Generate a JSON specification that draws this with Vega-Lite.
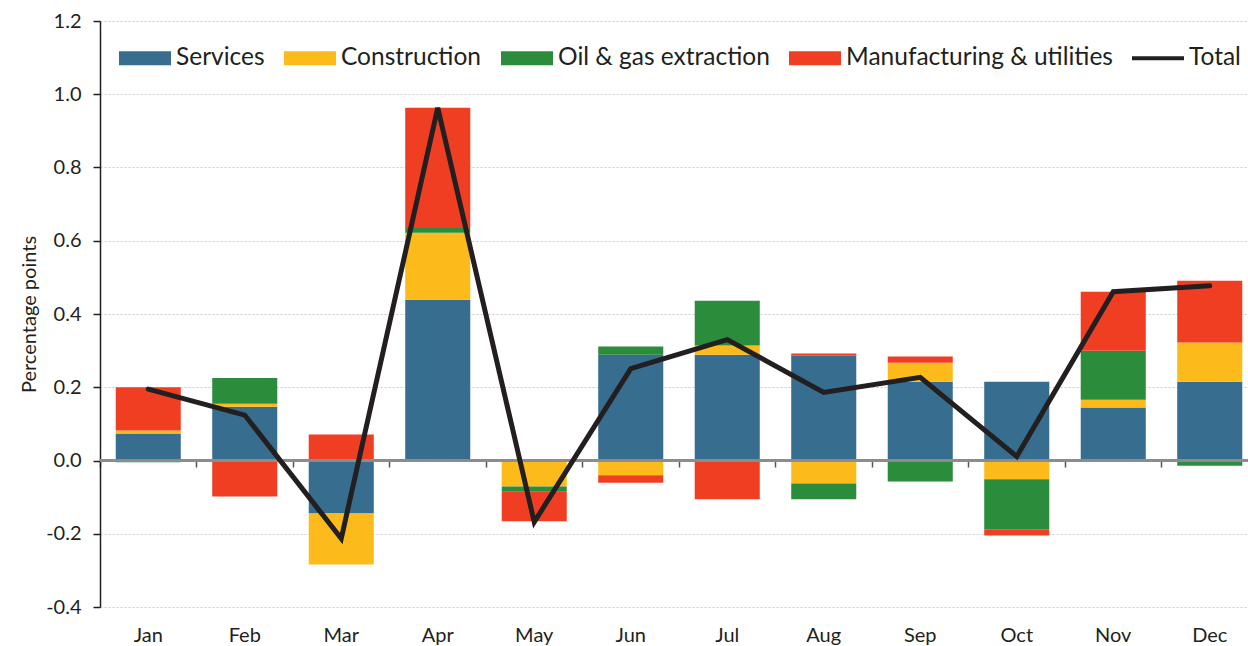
{
  "$schema": "https://vega.github.io/schema/vega-lite/v6.json",
  "width": 1148,
  "height": 586,
  "autosize": {"type": "none"},
  "padding": {"left": 100, "top": 21, "right": 0, "bottom": 39},
  "config": {"font": "Lato", "view": {"stroke": null}},
  "data": {
    "values": [
      {"month": "Jan", "sector": "Services", "value": 0.074},
      {"month": "Jan", "sector": "Construction", "value": 0.008},
      {"month": "Jan", "sector": "Oil & gas extraction", "value": -0.005},
      {"month": "Jan", "sector": "Manufacturing & utilities", "value": 0.118},
      {"month": "Jan", "sector": "Total", "value": 0.195},
      {"month": "Feb", "sector": "Services", "value": 0.147},
      {"month": "Feb", "sector": "Construction", "value": 0.008},
      {"month": "Feb", "sector": "Oil & gas extraction", "value": 0.07},
      {"month": "Feb", "sector": "Manufacturing & utilities", "value": -0.098},
      {"month": "Feb", "sector": "Total", "value": 0.124},
      {"month": "Mar", "sector": "Services", "value": -0.145},
      {"month": "Mar", "sector": "Construction", "value": -0.139},
      {"month": "Mar", "sector": "Oil & gas extraction", "value": 0.003},
      {"month": "Mar", "sector": "Manufacturing & utilities", "value": 0.068},
      {"month": "Mar", "sector": "Total", "value": -0.213},
      {"month": "Apr", "sector": "Services", "value": 0.439},
      {"month": "Apr", "sector": "Construction", "value": 0.183},
      {"month": "Apr", "sector": "Oil & gas extraction", "value": 0.013},
      {"month": "Apr", "sector": "Manufacturing & utilities", "value": 0.328},
      {"month": "Apr", "sector": "Total", "value": 0.963},
      {"month": "May", "sector": "Services", "value": 0.0},
      {"month": "May", "sector": "Construction", "value": -0.071},
      {"month": "May", "sector": "Oil & gas extraction", "value": -0.014},
      {"month": "May", "sector": "Manufacturing & utilities", "value": -0.081},
      {"month": "May", "sector": "Total", "value": -0.168},
      {"month": "Jun", "sector": "Services", "value": 0.289},
      {"month": "Jun", "sector": "Construction", "value": -0.04},
      {"month": "Jun", "sector": "Oil & gas extraction", "value": 0.022},
      {"month": "Jun", "sector": "Manufacturing & utilities", "value": -0.021},
      {"month": "Jun", "sector": "Total", "value": 0.251},
      {"month": "Jul", "sector": "Services", "value": 0.289},
      {"month": "Jul", "sector": "Construction", "value": 0.025},
      {"month": "Jul", "sector": "Oil & gas extraction", "value": 0.122},
      {"month": "Jul", "sector": "Manufacturing & utilities", "value": -0.106},
      {"month": "Jul", "sector": "Total", "value": 0.33},
      {"month": "Aug", "sector": "Services", "value": 0.286},
      {"month": "Aug", "sector": "Construction", "value": -0.063},
      {"month": "Aug", "sector": "Oil & gas extraction", "value": -0.043},
      {"month": "Aug", "sector": "Manufacturing & utilities", "value": 0.006},
      {"month": "Aug", "sector": "Total", "value": 0.186},
      {"month": "Sep", "sector": "Services", "value": 0.215},
      {"month": "Sep", "sector": "Construction", "value": 0.052},
      {"month": "Sep", "sector": "Oil & gas extraction", "value": -0.057},
      {"month": "Sep", "sector": "Manufacturing & utilities", "value": 0.017},
      {"month": "Sep", "sector": "Total", "value": 0.227},
      {"month": "Oct", "sector": "Services", "value": 0.215},
      {"month": "Oct", "sector": "Construction", "value": -0.051},
      {"month": "Oct", "sector": "Oil & gas extraction", "value": -0.137},
      {"month": "Oct", "sector": "Manufacturing & utilities", "value": -0.017},
      {"month": "Oct", "sector": "Total", "value": 0.011},
      {"month": "Nov", "sector": "Services", "value": 0.145},
      {"month": "Nov", "sector": "Construction", "value": 0.021},
      {"month": "Nov", "sector": "Oil & gas extraction", "value": 0.134},
      {"month": "Nov", "sector": "Manufacturing & utilities", "value": 0.161},
      {"month": "Nov", "sector": "Total", "value": 0.461},
      {"month": "Dec", "sector": "Services", "value": 0.215},
      {"month": "Dec", "sector": "Construction", "value": 0.107},
      {"month": "Dec", "sector": "Oil & gas extraction", "value": -0.014},
      {"month": "Dec", "sector": "Manufacturing & utilities", "value": 0.169},
      {"month": "Dec", "sector": "Total", "value": 0.477}
    ]
  },
  "layer": [
    {
      "transform": [
        {"filter": "datum.sector !== 'Total'"},
        {"calculate": "indexof(['Services', 'Construction', 'Oil & gas extraction', 'Manufacturing & utilities'], datum.sector)", "as": "stackRank"}
      ],
      "mark": {"type": "bar", "width": {"band": 0.674}},
      "encoding": {
        "x": {
          "field": "month", "type": "ordinal",
          "sort": ["Jan","Feb","Mar","Apr","May","Jun","Jul","Aug","Sep","Oct","Nov","Dec"],
          "scale": {"range": [0, 1158], "paddingInner": 0, "paddingOuter": 0},
          "axis": {"orient": "bottom", "title": null, "labels": false, "domain": false, "ticks": true, "tickSize": 6, "tickWidth": 1.5, "tickColor": "#555555", "bandPosition": 0, "offset": -146, "grid": false}
        },
        "y": {
          "field": "value", "type": "quantitative", "stack": "zero",
          "scale": {"domain": [-0.4, 1.2], "nice": false, "zero": false},
          "axis": {
            "title": "Percentage points",
            "values": [-0.4, -0.2, 0, 0.2, 0.4, 0.6, 0.8, 1.0, 1.2],
            "labelExpr": "datum.value < 0 ? '-' + format(-datum.value, '.1f') : format(datum.value, '.1f')",
            "labelFontSize": 20, "labelColor": "#231F20", "labelPadding": 12,
            "tickSize": 7, "tickColor": "#231F20", "tickWidth": 1.5,
            "domainColor": "#231F20", "domainWidth": 1.5,
            "gridColor": "#c8c8c8", "gridDash": [2, 2], "gridWidth": 1,
            "titleFontSize": 20, "titleFontWeight": "normal", "titleColor": "#231F20", "titlePadding": 6
          }
        },
        "color": {
          "field": "sector", "type": "nominal",
          "sort": ["Services", "Construction", "Oil & gas extraction", "Manufacturing & utilities", "Total"],
          "scale": {
            "domain": ["Services", "Construction", "Oil & gas extraction", "Manufacturing & utilities", "Total"],
            "range": ["#376D8F", "#FDBB1B", "#2B8C3B", "#F03E23", "#231F20"]
          },
          "legend": {
            "orient": "none", "legendX": 19, "legendY": 11,
            "direction": "horizontal", "title": null,
            "labelFontSize": 24.5, "labelColor": "#231F20", "labelOffset": 5, "labelLimit": 400,
            "symbolSize": 2704, "columnPadding": 19,
            "symbolType": "M-1,-0.27H1V0.27H-1Z",
            "encode": {
              "symbols": {
                "update": {
                  "shape": {"signal": "datum.value === 'Total' ? 'M-1,-0.08H1V0.08H-1Z' : 'M-1,-0.27H1V0.27H-1Z'"},
                  "fill": {"scale": "color", "field": "value"},
                  "strokeWidth": {"value": 0},
                  "opacity": {"value": 1}
                }
              }
            }
          }
        },
        "order": {"field": "stackRank", "type": "quantitative", "sort": "ascending"}
      }
    },
    {
      "mark": {"type": "rule", "color": "#8c8c8c", "strokeWidth": 2},
      "encoding": {"y": {"datum": 0}}
    },
    {
      "transform": [{"filter": "datum.sector === 'Total'"}],
      "mark": {"type": "line", "strokeWidth": 5, "strokeCap": "round"},
      "encoding": {
        "x": {
          "field": "month", "type": "ordinal",
          "sort": ["Jan","Feb","Mar","Apr","May","Jun","Jul","Aug","Sep","Oct","Nov","Dec"],
          "axis": {"orient": "bottom", "title": null, "domain": false, "ticks": false, "labelFontSize": 20, "labelColor": "#231F20", "labelPadding": 18, "labelAngle": 0, "grid": false}
        },
        "y": {"field": "value", "type": "quantitative"},
        "color": {"field": "sector", "type": "nominal"}
      }
    }
  ],
  "resolve": {"axis": {"x": "independent"}}
}
